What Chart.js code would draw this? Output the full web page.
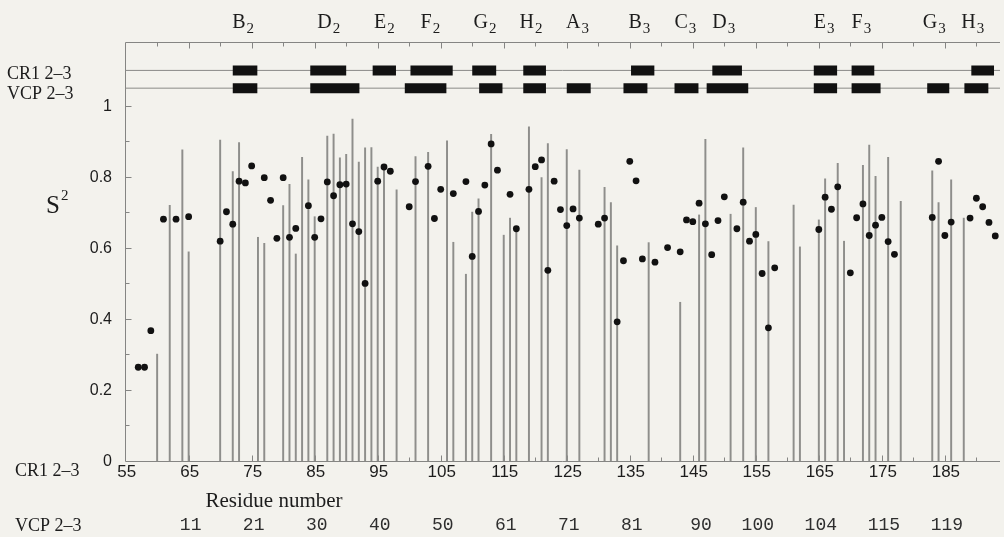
<!DOCTYPE html>
<html>
<head>
<meta charset="utf-8">
<title>S2 order parameters, CR1 2–3 / VCP 2–3</title>
<script src="https://cdn.jsdelivr.net/npm/chart.js@4.4.0/dist/chart.umd.min.js"></script>
<style>
  html, body { margin: 0; padding: 0; background: #f3f2ed; }
  #wrap { width: 1004px; height: 537px; }
</style>
</head>
<body>
<div id="wrap"><canvas id="s2Chart" width="1004" height="537"></canvas></div>
<script>
// S2 per residue, CR1 2-3 (filled dots)
const dotResidues = [57, 58, 59, 61, 63, 65, 70, 71, 72, 73, 74, 75, 77, 78, 79, 80, 81, 82, 84, 85,
  86, 87, 88, 89, 90, 91, 92, 93, 95, 96, 97, 100, 101, 103, 104, 105, 107, 109, 110, 111,
  112, 113, 114, 116, 117, 119, 120, 121, 122, 123, 124, 125, 126, 127, 130, 131, 133, 134, 135, 136,
  137, 139, 141, 143, 144, 145, 146, 147, 148, 149, 150, 152, 153, 154, 155, 156, 157, 158, 165, 166,
  167, 168, 170, 171, 172, 173, 174, 175, 176, 177, 183, 184, 185, 186, 189, 190, 191, 192, 193];
const dotValues = [0.264, 0.264, 0.367, 0.681, 0.681, 0.688, 0.619, 0.702, 0.667, 0.788, 0.783, 0.831, 0.798, 0.734, 0.627, 0.798, 0.630, 0.655, 0.719, 0.630,
  0.682, 0.786, 0.747, 0.778, 0.780, 0.668, 0.646, 0.500, 0.788, 0.828, 0.816, 0.716, 0.787, 0.830, 0.683, 0.765, 0.753, 0.787, 0.576, 0.703,
  0.777, 0.893, 0.819, 0.751, 0.654, 0.765, 0.829, 0.848, 0.537, 0.788, 0.708, 0.663, 0.710, 0.684, 0.667, 0.684, 0.392, 0.564, 0.844, 0.789,
  0.569, 0.560, 0.601, 0.589, 0.679, 0.674, 0.726, 0.668, 0.581, 0.677, 0.744, 0.654, 0.729, 0.619, 0.638, 0.528, 0.375, 0.544, 0.652, 0.743,
  0.709, 0.772, 0.530, 0.685, 0.724, 0.635, 0.664, 0.686, 0.618, 0.582, 0.686, 0.844, 0.635, 0.673, 0.684, 0.740, 0.716, 0.672, 0.634];

// S2 per residue, VCP 2-3 (vertical lines)
const lineResidues = [60, 62, 64, 65, 70, 72, 73, 76, 77, 80, 81, 82, 83, 84, 85, 87, 88, 89, 90, 91,
  92, 93, 94, 95, 96, 98, 101, 103, 106, 107, 109, 110, 111, 113, 115, 116, 117, 119, 121, 122,
  125, 127, 131, 132, 133, 138, 143, 146, 147, 151, 153, 155, 157, 161, 162, 165, 166, 168, 169, 172,
  173, 174, 176, 178, 183, 184, 186, 188];
const lineValues = [0.301, 0.720, 0.876, 0.589, 0.904, 0.815, 0.897, 0.630, 0.613, 0.719, 0.779, 0.583, 0.855, 0.792, 0.688, 0.915, 0.921, 0.854, 0.864, 0.963,
  0.842, 0.882, 0.883, 0.828, 0.825, 0.764, 0.857, 0.869, 0.902, 0.616, 0.526, 0.701, 0.738, 0.920, 0.636, 0.684, 0.654, 0.941, 0.798, 0.894,
  0.877, 0.819, 0.771, 0.728, 0.606, 0.615, 0.447, 0.693, 0.906, 0.695, 0.882, 0.714, 0.618, 0.721, 0.603, 0.679, 0.795, 0.838, 0.619, 0.833,
  0.890, 0.802, 0.855, 0.731, 0.817, 0.728, 0.792, 0.684];

// beta strands along the sequence, [first, last] residue
const cr1Strands = [[72.0, 75.9], [84.3, 90.0], [94.2, 97.9], [100.2, 106.9], [110.0, 113.8], [118.1, 121.7],
  [135.2, 138.9], [148.1, 152.8], [164.2, 167.9], [170.2, 173.8], [189.2, 192.8]];
const vcpStrands = [[72.0, 75.9], [84.3, 92.1], [99.3, 105.9], [111.1, 114.8], [118.1, 121.7], [125.0, 128.8],
  [134.0, 137.8], [142.1, 145.9], [147.2, 153.8], [164.2, 167.9], [170.2, 174.8], [182.2, 185.7], [188.1, 191.9]];
const strandNames = ['B', 'D', 'E', 'F', 'G', 'H', 'A', 'B', 'C', 'D', 'E', 'F', 'G', 'H'];
const strandDomains = ['2', '2', '2', '2', '2', '2', '3', '3', '3', '3', '3', '3', '3', '3'];
const strandLabelAt = [71.9, 85.4, 94.4, 101.8, 110.2, 117.5, 124.9, 134.8, 142.1, 148.1, 164.2, 170.2, 181.5, 187.6];

const cr1Row = 1.10;
const vcpRow = 1.05;

// axis labels
const xTickValues = [55, 65, 75, 85, 95, 105, 115, 125, 135, 145, 155, 165, 175, 185];
const yTickValues = [0, 0.2, 0.4, 0.6, 0.8, 1];
const yTickLabels = ['0', '0.2', '0.4', '0.6', '0.8', '1'];
const vcpNumbers = ['11', '21', '30', '40', '50', '61', '71', '81', '90', '100', '104', '115', '119'];
const vcpNumberAt = [65, 75, 85, 95, 105, 115, 125, 135, 146, 155, 165, 175, 185];

const X_MIN = 54.9;
const X_MAX = 193.75;
const SERIF = "'Liberation Serif', 'Times New Roman', serif";
const SANS = "'Liberation Sans', Arial, sans-serif";
const MONO = "'Liberation Mono', 'Courier New', monospace";

function strandPoints(spans, row) {
  const pts = [];
  spans.forEach(([a, b]) => {
    pts.push({ x: a, y: row }, { x: b, y: row }, { x: b, y: null });
  });
  return pts;
}

function rule(row) {
  return [{ x: X_MIN, y: row }, { x: X_MAX, y: row }];
}

// letter with a lowered index, e.g. B2
function drawIndexed(ctx, x, y, main, sub, mainSize, subSize, shift) {
  ctx.font = mainSize + 'px ' + SERIF;
  ctx.fillText(main, x, y);
  const w = ctx.measureText(main).width;
  ctx.font = subSize + 'px ' + SERIF;
  ctx.fillText(sub, x + w + 1, y + shift);
}

const framePlugin = {
  id: 'frame',
  beforeDraw(chart) {
    const { ctx, width, height } = chart;
    ctx.save();
    ctx.fillStyle = '#f3f2ed';
    ctx.fillRect(0, 0, width, height);
    ctx.restore();
  },
  beforeDatasetsDraw(chart) {
    const { ctx, chartArea: a, scales: { x, y } } = chart;
    const left = a.left + 0.5;
    const top = a.top + 0.5;
    const bottom = a.bottom + 0.5;
    ctx.save();
    ctx.strokeStyle = '#858583';
    ctx.lineWidth = 1;
    ctx.beginPath();
    ctx.moveTo(a.right, top);
    ctx.lineTo(left, top);
    ctx.lineTo(left, bottom);
    ctx.lineTo(a.right, bottom);
    // inward ticks every 5 residues, longer where labelled
    for (let r = 60; r <= 190; r += 5) {
      const px = Math.round(x.getPixelForValue(r)) + 0.5;
      const len = (r - 55) % 10 === 0 ? 6 : 4;
      ctx.moveTo(px, bottom);
      ctx.lineTo(px, bottom - len);
      ctx.moveTo(px, top);
      ctx.lineTo(px, top + len);
    }
    for (let k = 1; k <= 10; k++) {
      const py = Math.round(y.getPixelForValue(k / 10)) + 0.5;
      const len = k % 2 === 0 ? 6 : 4;
      ctx.moveTo(left, py);
      ctx.lineTo(left + len, py);
    }
    ctx.stroke();
    ctx.restore();
  },
  afterDraw(chart) {
    const { ctx, chartArea: a, scales: { x, y } } = chart;
    ctx.save();
    ctx.fillStyle = '#1c1c1c';
    ctx.textBaseline = 'alphabetic';

    // strand names over the top axis
    ctx.textAlign = 'left';
    strandNames.forEach((n, i) => {
      drawIndexed(ctx, x.getPixelForValue(strandLabelAt[i]), 28, n, strandDomains[i], 20, 15, 5);
    });

    // row names
    ctx.font = '18px ' + SERIF;
    ctx.fillText('CR1 2\u20133', 7, y.getPixelForValue(cr1Row) + 9);
    ctx.fillText('VCP 2\u20133', 7, y.getPixelForValue(vcpRow) + 11);
    ctx.fillText('CR1 2\u20133', 15, 476);
    ctx.fillText('VCP 2\u20133', 15, 531);

    // y axis title
    ctx.font = '25px ' + SERIF;
    ctx.fillText('S', 46, 213);
    ctx.font = '15px ' + SERIF;
    ctx.fillText('2', 61, 200);

    // y tick labels
    ctx.font = '16px ' + SANS;
    ctx.textAlign = 'right';
    ctx.textBaseline = 'middle';
    yTickValues.forEach((v, i) => {
      ctx.fillText(yTickLabels[i], 112, y.getPixelForValue(v) + 1);
    });

    // residue numbers, CR1 2-3
    ctx.textAlign = 'center';
    ctx.textBaseline = 'alphabetic';
    ctx.font = '17px ' + SANS;
    xTickValues.forEach(v => {
      ctx.fillText(String(v), x.getPixelForValue(v) + 1, 477);
    });

    ctx.font = '21px ' + SERIF;
    ctx.fillText('Residue number', 274, 507);

    // matching residue numbers, VCP 2-3
    ctx.fillStyle = '#2e2e2e';
    ctx.font = '18px ' + MONO;
    vcpNumbers.forEach((t, i) => {
      ctx.fillText(t, x.getPixelForValue(vcpNumberAt[i]) + 2, 530);
    });
    ctx.restore();
  }
};

const ctx = document.getElementById('s2Chart').getContext('2d');
const s2Chart = new Chart(ctx, {
  type: 'scatter',
  data: {
    datasets: [
      {
        label: 'CR1 2-3',
        data: dotResidues.map((r, i) => ({ x: r, y: dotValues[i] })),
        backgroundColor: '#111111',
        borderWidth: 0,
        pointRadius: 3.4,
        order: 0
      },
      {
        type: 'line',
        label: 'CR1 strands',
        data: strandPoints(cr1Strands, cr1Row),
        borderColor: '#111111',
        borderWidth: 10,
        borderCapStyle: 'butt',
        pointRadius: 0,
        spanGaps: false,
        order: 1
      },
      {
        type: 'line',
        label: 'VCP strands',
        data: strandPoints(vcpStrands, vcpRow),
        borderColor: '#111111',
        borderWidth: 10,
        borderCapStyle: 'butt',
        pointRadius: 0,
        spanGaps: false,
        order: 1
      },
      {
        type: 'bar',
        label: 'VCP 2-3',
        data: lineResidues.map((r, i) => ({ x: r, y: lineValues[i] })),
        backgroundColor: '#8e8e8b',
        barThickness: 1.3,
        grouped: false,
        order: 2
      },
      {
        type: 'line',
        data: rule(cr1Row),
        borderColor: '#8a8a88',
        borderWidth: 1,
        pointRadius: 0,
        order: 3
      },
      {
        type: 'line',
        data: rule(vcpRow),
        borderColor: '#8a8a88',
        borderWidth: 1,
        pointRadius: 0,
        order: 3
      }
    ]
  },
  options: {
    responsive: false,
    animation: false,
    events: [],
    layout: { padding: { left: 125, top: 42, right: 0, bottom: 76 } },
    plugins: {
      legend: { display: false },
      tooltip: { enabled: false }
    },
    scales: {
      x: { type: 'linear', min: X_MIN, max: X_MAX, offset: false, display: false },
      y: { type: 'linear', min: 0, max: 1.18, display: false }
    }
  },
  plugins: [framePlugin]
});
</script>
</body>
</html>
